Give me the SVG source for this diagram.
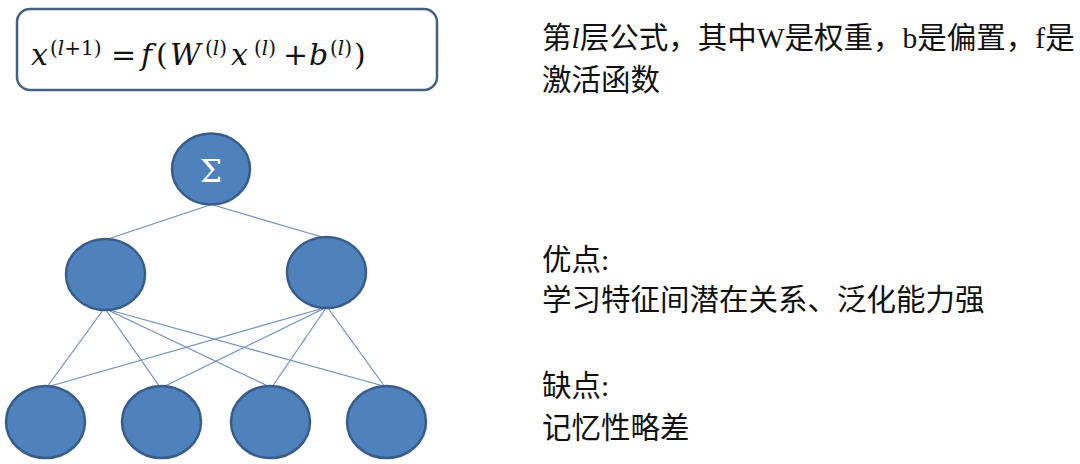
<svg xmlns="http://www.w3.org/2000/svg" width="1080" height="464" viewBox="0 0 1080 464">
<style>
.node{fill:#4F81BD;stroke:#385D8A;stroke-width:2.5}
.link{stroke:#6E8EC0;stroke-width:1.2;fill:none}
.box{fill:#FFFFFF;stroke:#46617F;stroke-width:2.5}
.m{font-family:"DejaVu Serif","Liberation Serif",serif;font-size:30px;fill:#111}
.i{font-style:italic}
.s{font-size:20px}
.t{font-family:"Liberation Serif","Noto Sans CJK SC",serif;font-size:29.5px;fill:#111}
.sig{font-family:"DejaVu Serif",serif;font-size:31px;fill:#FFFFFF}
</style>
<rect width="1080" height="464" fill="#FFFFFF"/>
<g id="formula">
<rect class="box" x="17" y="9" width="420" height="81" rx="13" ry="13"/>
<text class="m"><tspan class="i" x="31" y="65">x</tspan><tspan class="s" x="50" y="55">(</tspan><tspan class="s i">l</tspan><tspan class="s">+1)</tspan><tspan x="111" y="65">=</tspan><tspan class="i" x="141" y="65">f</tspan><tspan x="156" y="65">(</tspan><tspan class="i" x="170" y="65">W</tspan><tspan class="s" x="205" y="55">(</tspan><tspan class="s i">l</tspan><tspan class="s">)</tspan><tspan class="i" x="231" y="65">x</tspan><tspan class="s" x="254" y="55">(</tspan><tspan class="s i">l</tspan><tspan class="s">)</tspan><tspan x="283" y="65">+</tspan><tspan class="i" x="309" y="65">b</tspan><tspan class="s" x="330" y="55">(</tspan><tspan class="s i">l</tspan><tspan class="s">)</tspan><tspan x="354" y="65">)</tspan></text>
</g>
<g id="connectors">
<line class="link" x1="210" y1="205" x2="108" y2="239"/>
<line class="link" x1="213" y1="205" x2="322" y2="237"/>
<line class="link" x1="103" y1="310" x2="47" y2="387"/>
<line class="link" x1="106" y1="310" x2="160" y2="387"/>
<line class="link" x1="110" y1="311" x2="270" y2="387"/>
<line class="link" x1="113" y1="311" x2="387" y2="387"/>
<line class="link" x1="324" y1="308" x2="47" y2="387"/>
<line class="link" x1="325" y1="308" x2="163" y2="387"/>
<line class="link" x1="326" y1="308" x2="272" y2="387"/>
<line class="link" x1="328" y1="308" x2="385" y2="387"/>
</g>
<g id="node-sum">
<ellipse class="node" cx="211" cy="169" rx="39" ry="35.5"/>
<text class="sig" x="211" y="182" text-anchor="middle">Σ</text>
</g>
<g id="node-h1"><ellipse class="node" cx="105.5" cy="274.5" rx="39.5" ry="35.5"/></g>
<g id="node-h2"><ellipse class="node" cx="326.5" cy="272.5" rx="39.5" ry="35.5"/></g>
<g id="node-x1"><ellipse class="node" cx="45.5" cy="422" rx="39.5" ry="36"/></g>
<g id="node-x2"><ellipse class="node" cx="161.5" cy="422" rx="39.5" ry="36"/></g>
<g id="node-x3"><ellipse class="node" cx="270.5" cy="422" rx="39.5" ry="36"/></g>
<g id="node-x4"><ellipse class="node" cx="386.5" cy="422" rx="39.5" ry="36"/></g>
<g id="notes">
<text class="t" x="542" y="48">第<tspan font-style="italic">l</tspan>层公式，其中W是权重，b是偏置，f是</text>
<text class="t" x="542" y="90">激活函数</text>
<text class="t" x="542" y="270">优点:</text>
<text class="t" x="542" y="310">学习特征间潜在关系、泛化能力强</text>
<text class="t" x="542" y="396">缺点:</text>
<text class="t" x="542" y="438">记忆性略差</text>
</g>
</svg>
